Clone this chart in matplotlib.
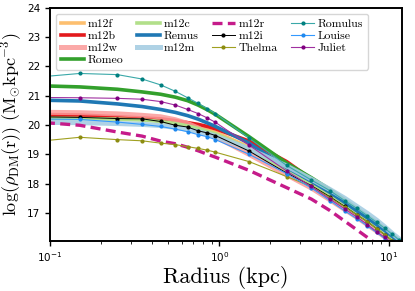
import matplotlib
matplotlib.use("Agg")
import matplotlib.pyplot as plt
import numpy as np

# radial bins (kpc)
radius = [0.05, 0.15, 0.25, 0.35, 0.45, 0.55, 0.65, 0.75, 0.85, 0.95,
          1.5, 2.5, 3.5, 4.5, 5.5, 6.5, 7.5, 8.5, 9.5, 10.5, 11.5]

# log dark matter density per halo
m12f = [20.30, 20.28, 20.24, 20.20, 20.15, 20.08, 20.00, 19.92, 19.83, 19.75,
        19.25, 18.50, 18.02, 17.62, 17.28, 16.98, 16.74, 16.52, 16.32, 16.12, 15.96]
m12b = [20.38, 20.34, 20.28, 20.24, 20.21, 20.15, 20.08, 20.02, 19.95, 19.87,
        19.45, 18.75, 18.15, 17.74, 17.38, 17.08, 16.83, 16.60, 16.40, 16.20, 16.03]
m12w = [20.45, 20.42, 20.38, 20.33, 20.28, 20.18, 20.05, 19.90, 19.75, 19.60,
        19.00, 18.30, 17.85, 17.45, 17.12, 16.85, 16.60, 16.38, 16.18, 15.98, 15.82]
romeo = [21.38, 21.30, 21.22, 21.13, 21.05, 20.95, 20.83, 20.68, 20.52, 20.36,
         19.60, 18.70, 18.20, 17.80, 17.45, 17.15, 16.90, 16.68, 16.46, 16.26, 16.08]
m12c = [20.22, 20.22, 20.20, 20.17, 20.12, 20.05, 19.97, 19.88, 19.78, 19.70,
        19.20, 18.45, 17.98, 17.60, 17.26, 16.97, 16.73, 16.50, 16.30, 16.10, 15.94]
remus = [20.88, 20.82, 20.72, 20.63, 20.53, 20.43, 20.32, 20.20, 20.07, 19.95,
         19.38, 18.55, 18.08, 17.70, 17.36, 17.07, 16.83, 16.60, 16.40, 16.20, 16.03]
m12m = [20.10, 20.08, 20.05, 20.02, 19.98, 19.92, 19.85, 19.77, 19.70, 19.62,
        19.18, 18.60, 18.15, 17.80, 17.50, 17.22, 16.98, 16.75, 16.52, 16.30, 16.12]
m12r = [20.20, 19.99, 19.76, 19.62, 19.45, 19.36, 19.24, 19.12, 19.00, 18.90,
        18.45, 17.86, 17.47, 17.08, 16.72, 16.42, 16.16, 15.93, 15.73, 15.55, 15.40]
m12i = [20.30, 20.26, 20.22, 20.21, 20.12, 19.99, 19.93, 19.80, 19.73, 19.64,
        19.11, 18.36, 17.93, 17.55, 17.22, 16.93, 16.70, 16.46, 16.25, 16.05, 15.88]
thelma = [19.31, 19.58, 19.50, 19.46, 19.38, 19.33, 19.26, 19.20, 19.14, 19.07,
          18.75, 18.24, 17.90, 17.52, 17.20, 16.93, 16.70, 16.46, 16.25, 16.05, 15.88]
romulus = [21.52, 21.76, 21.72, 21.57, 21.37, 21.15, 20.93, 20.74, 20.56, 20.39,
           19.55, 18.62, 18.12, 17.76, 17.42, 17.15, 16.90, 16.68, 16.47, 16.27, 16.08]
louise = [20.22, 20.19, 20.10, 20.02, 19.95, 19.86, 19.77, 19.67, 19.60, 19.50,
          19.00, 18.34, 17.85, 17.42, 17.07, 16.80, 16.55, 16.33, 16.12, 15.93, 15.76]
juliet = [20.95, 20.93, 20.91, 20.88, 20.80, 20.68, 20.53, 20.39, 20.24, 20.09,
          19.31, 18.43, 17.90, 17.47, 17.14, 16.86, 16.60, 16.36, 16.16, 15.97, 15.80]

fig = plt.figure(figsize=(4.15, 2.91), dpi=100)
ax = fig.add_axes([0.1205, 0.173, 0.848, 0.80])

# thick smooth profiles
ax.plot(radius, m12f, color='#fdbf6f', lw=2.6, label='m12f')
ax.plot(radius, m12b, color='#e31a1c', lw=2.6, label='m12b')
ax.plot(radius, m12w, color='#fb9a99', lw=3.6, alpha=0.85, label='m12w')
ax.plot(radius, romeo, color='#33a02c', lw=2.6, label='Romeo')
ax.plot(radius, m12c, color='#b2df8a', lw=2.6, label='m12c')
ax.plot(radius, remus, color='#1f78b4', lw=2.6, label='Remus')
ax.plot(radius, m12m, color='#a6cee3', lw=3.6, alpha=0.9, label='m12m')
ax.plot(radius, m12r, color='#c51b8a', lw=2.4, ls=(0, (3, 1.6)), label='m12r')

# thin profiles with markers
ax.plot(radius, m12i, color='black', lw=0.7, marker='o', ms=2, label='m12i')
ax.plot(radius, thelma, color='#a0a020', lw=0.8, marker='o', ms=2,
        mfc='#8c8c10', mec='#8c8c10', label='Thelma')
ax.plot(radius, romulus, color='#3aa8a8', lw=0.8, marker='o', ms=2,
        mfc='#008080', mec='#008080', label='Romulus')
ax.plot(radius, louise, color='#3399ff', lw=0.8, marker='o', ms=2,
        mfc='#1e88ee', mec='#1e88ee', label='Louise')
ax.plot(radius, juliet, color='#a030a0', lw=0.8, marker='o', ms=2,
        mfc='#800080', mec='#800080', label='Juliet')

ax.set_xscale('log')
ax.set_xlim(0.1, 12)
ax.set_ylim(16.05, 24)
ax.set_yticks([17, 18, 19, 20, 21, 22, 23, 24])

ax.set_xlabel('Radius (kpc)', fontsize=16, fontname='cmr10', labelpad=1)
ax.set_ylabel(r'$\log(\rho_{\rm DM}(\rm r))\ (\rm M_{\odot}kpc^{-3})$',
              fontsize=13, math_fontfamily='cm', labelpad=2)

for s in ax.spines.values():
    s.set_linewidth(1.4)
ax.tick_params(labelsize=7.5, width=1.0)

ax.legend(ncol=4, loc='upper left', prop={'family': 'cmr10', 'size': 8.5},
          labelspacing=0.15, handlelength=2.0, handletextpad=0.3,
          columnspacing=1.1, borderpad=0.4)

fig.savefig('out.png', dpi=100)
